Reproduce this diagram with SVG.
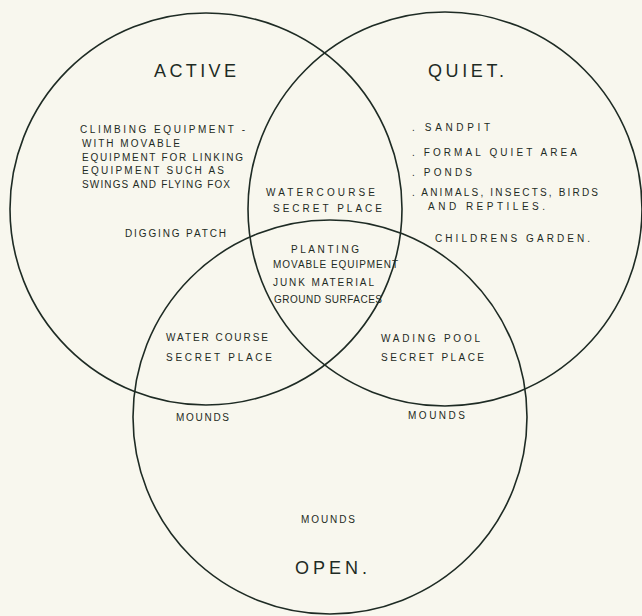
<svg xmlns="http://www.w3.org/2000/svg" width="642" height="616" viewBox="0 0 642 616">
<style>
.bg{fill:#f8f7ee}
.c{fill:none;stroke:#1e2b24;stroke-width:1.6}
text{font-family:"Liberation Sans",Arial,sans-serif;fill:#1e2b24}
.t{font-size:18px}
.s{font-size:10px}
</style>
<rect class="bg" x="0" y="0" width="642" height="616"/>
<g id="circles">
<circle id="active-circle" class="c" cx="206" cy="209" r="196"/>
<circle id="quiet-circle" class="c" cx="445" cy="209" r="197"/>
<circle id="open-circle" class="c" cx="330" cy="417" r="197"/>
</g>
<g id="active">
<text class="t" x="154" y="77" textLength="82" lengthAdjust="spacing">ACTIVE</text>
<text class="s" x="80" y="133" textLength="165" lengthAdjust="spacing">CLIMBING EQUIPMENT -</text>
<text class="s" x="82" y="147" textLength="98" lengthAdjust="spacing">WITH MOVABLE</text>
<text class="s" x="82" y="161" textLength="161" lengthAdjust="spacing">EQUIPMENT FOR LINKING</text>
<text class="s" x="82" y="174" textLength="142" lengthAdjust="spacing">EQUIPMENT SUCH AS</text>
<text class="s" x="82" y="188" textLength="148" lengthAdjust="spacing">SWINGS AND FLYING FOX</text>
<text class="s" x="125" y="237" textLength="101" lengthAdjust="spacing">DIGGING PATCH</text>
</g>
<g id="quiet">
<text class="t" x="428" y="77" textLength="76" lengthAdjust="spacing">QUIET.</text>
<text class="s" x="412" y="131" textLength="78" lengthAdjust="spacing">. SANDPIT</text>
<text class="s" x="412" y="156" textLength="165" lengthAdjust="spacing">. FORMAL QUIET AREA</text>
<text class="s" x="412" y="176" textLength="60" lengthAdjust="spacing">. PONDS</text>
<text class="s" x="412" y="196" textLength="186" lengthAdjust="spacing">. ANIMALS, INSECTS, BIRDS</text>
<text class="s" x="428" y="210" textLength="117" lengthAdjust="spacing">AND REPTILES.</text>
<text class="s" x="435" y="242" textLength="155" lengthAdjust="spacing">CHILDRENS GARDEN.</text>
</g>
<g id="active-quiet">
<text class="s" x="266" y="196" textLength="109" lengthAdjust="spacing">WATERCOURSE</text>
<text class="s" x="273" y="212" textLength="109" lengthAdjust="spacing">SECRET PLACE</text>
</g>
<g id="all-three">
<text class="s" x="291" y="253" textLength="68" lengthAdjust="spacing">PLANTING</text>
<text class="s" x="273" y="268" textLength="125" lengthAdjust="spacing">MOVABLE EQUIPMENT</text>
<text class="s" x="273" y="286" textLength="101" lengthAdjust="spacing">JUNK MATERIAL</text>
<text class="s" x="274" y="303" textLength="108" lengthAdjust="spacing">GROUND SURFACES</text>
</g>
<g id="active-open">
<text class="s" x="166" y="341" textLength="102" lengthAdjust="spacing">WATER COURSE</text>
<text class="s" x="166" y="361" textLength="106" lengthAdjust="spacing">SECRET PLACE</text>
</g>
<g id="quiet-open">
<text class="s" x="381" y="342" textLength="99" lengthAdjust="spacing">WADING POOL</text>
<text class="s" x="381" y="361" textLength="103" lengthAdjust="spacing">SECRET PLACE</text>
</g>
<g id="open">
<text class="s" x="176" y="421" textLength="53" lengthAdjust="spacing">MOUNDS</text>
<text class="s" x="408" y="419" textLength="57" lengthAdjust="spacing">MOUNDS</text>
<text class="s" x="301" y="523" textLength="54" lengthAdjust="spacing">MOUNDS</text>
<text class="t" x="295" y="574" textLength="72" lengthAdjust="spacing">OPEN.</text>
</g>
</svg>
